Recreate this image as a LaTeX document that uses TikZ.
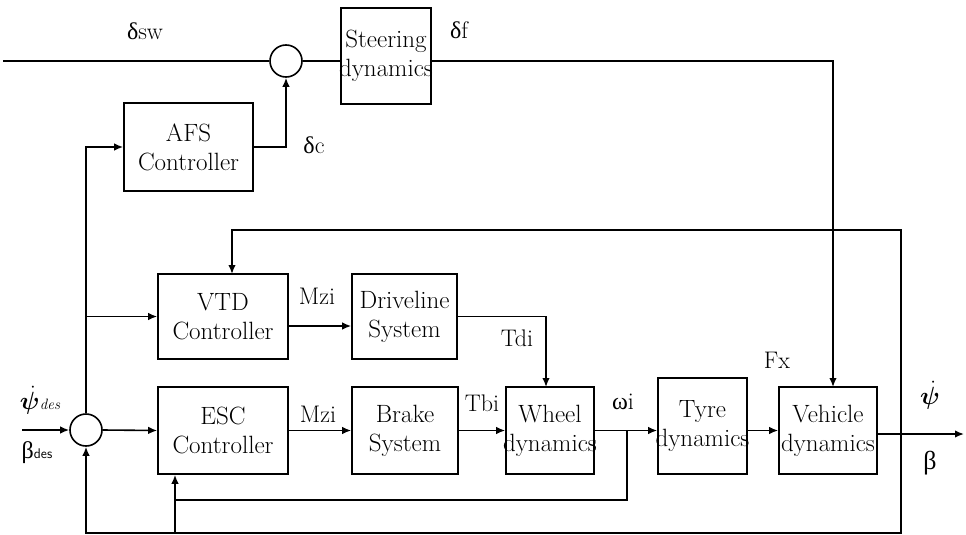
\documentclass[tikz,border=0pt]{standalone}
\usepackage{fontspec}
\usepackage{bm}
\newfontfamily\grk{Liberation Serif}
\newcommand\mkctr[1]{\makebox[0pt]{#1}}
\usetikzlibrary{arrows.meta}
\begin{document}
\begin{tikzpicture}[x=1pt,y=-1pt,
  box/.style={draw, line width=1.6pt, inner sep=0pt, align=center, font=\fontsize{25}{29}\selectfont},
  sumj/.style={draw, circle, line width=1.6pt, minimum size=32pt, inner sep=0pt},
  conn/.style={line width=1.6pt},
  arr/.style={line width=1.6pt, -{Latex[length=9pt,width=7.5pt]}},
  lbl/.style={font=\fontsize{24}{28}\selectfont, inner sep=0pt}]
\useasboundingbox (0,0) rectangle (966,535);

% blocks
\node[sumj] (sum1) at (286,61) {};
\node[sumj] (sum2) at (86,430) {};
\node[box, minimum width=90pt, minimum height=96pt] (steer) at (386,56) {\mkctr{Steering}\\\mkctr{dynamics}};
\node[box, minimum width=129pt, minimum height=88pt] (afs) at (188.5,147) {AFS\\Controller};
\node[box, minimum width=130pt, minimum height=85pt] (vtd) at (223,316.5) {VTD\\Controller};
\node[box, minimum width=105pt, minimum height=85pt] (drive) at (404.5,316.5) {\mkctr{Driveline}\\\mkctr{System}};
\node[box, minimum width=130pt, minimum height=87pt] (esc) at (223,430.5) {ESC\\Controller};
\node[box, minimum width=106pt, minimum height=87pt] (brake) at (405,430.5) {Brake\\System};
\node[box, minimum width=88pt, minimum height=87pt] (wheel) at (550,430.5) {\mkctr{Wheel}\\\mkctr{dynamics}};
\node[box, minimum width=89pt, minimum height=96pt] (tyre) at (702.5,426) {\mkctr{Tyre}\\\mkctr{dynamics}};
\node[box, minimum width=98pt, minimum height=87pt] (veh) at (828,430.5) {\mkctr{Vehicle}\\\mkctr{dynamics}};

% free ends and junctions
\coordinate (inTop) at (3,61);
\coordinate (inLow) at (22,430);
\coordinate (outEnd) at (964,434);
\coordinate (fbR) at (901,434);
\coordinate (tap) at (627,430);
\coordinate (jesc) at (175,500);
\coordinate (jbot) at (175,533);
\coordinate (vehIn) at (833,387);
\coordinate (wheelIn) at (546,387);
\coordinate (vtdIn) at (232,274);

% top path
\draw[conn] (inTop) -- (sum1.west);
\draw[conn] (sum1.east) -- (steer.west |- sum1.east);
\draw[arr] (steer.east |- sum1.east) -| (vehIn);
\draw[arr] (afs.east) -| (sum1.south);
\draw[arr] (sum2.north) |- (afs.west);
\draw[arr] (sum2.north |- vtd.west) -- (vtd.west);

% middle and lower paths
\draw[arr] (inLow) -- (sum2.west);
\draw[arr] (sum2.east) -- (esc.west);
\draw[arr] (esc.east) -- (brake.west);
\draw[arr] (brake.east) -- (wheel.west);
\draw[arr] ([yshift=-9.5pt]vtd.east) -- ([yshift=-9.5pt]drive.west);
\draw[arr] (drive.east) -| (wheelIn);
\draw[arr] (wheel.east) -- (tyre.west |- wheel.east);
\draw[arr] (tyre.east |- wheel.east) -- (veh.west |- wheel.east);
\draw[arr] (veh.east |- outEnd) -- (outEnd);

% feedback
\draw[arr] (fbR) -- (901,230) -| (vtdIn);
\draw[arr] (fbR) -- (901,533) -| (sum2.south);
\draw[arr] (jbot) -- (jbot |- esc.south);
\draw[conn] (tap) |- (jesc);

% labels
\node[lbl] at (145,31) {{\grk δ}sw};
\node[lbl] at (459,30) {{\grk δ}f};
\node[lbl] at (314,145) {{\grk δ}c};
\node[lbl] at (317,296) {Mzi};
\node[lbl] at (517,338) {Tdi};
\node[lbl] at (318,414) {Mzi};
\node[lbl] at (482,403) {Tbi};
\node[lbl] at (623,402) {{\grk ω}i};
\node[lbl] at (777,360) {Fx};
\node[lbl] (psiout) at (930,395) {\fontsize{28}{30}\selectfont $\dot{\bm{\psi}}$};
\node[lbl] (betaout) at (930,463) {\fontsize{26}{28}\selectfont{\grk β}};
\node[lbl] (psides) at (40,400) {\fontsize{26}{28}\selectfont $\dot{\bm{\psi}}$\fontsize{15}{16}\selectfont\itshape des};
\node[lbl] (betades) at (37,453) {{\grk β}\fontsize{14}{14}\selectfont\sffamily des};
\end{tikzpicture}
\end{document}
